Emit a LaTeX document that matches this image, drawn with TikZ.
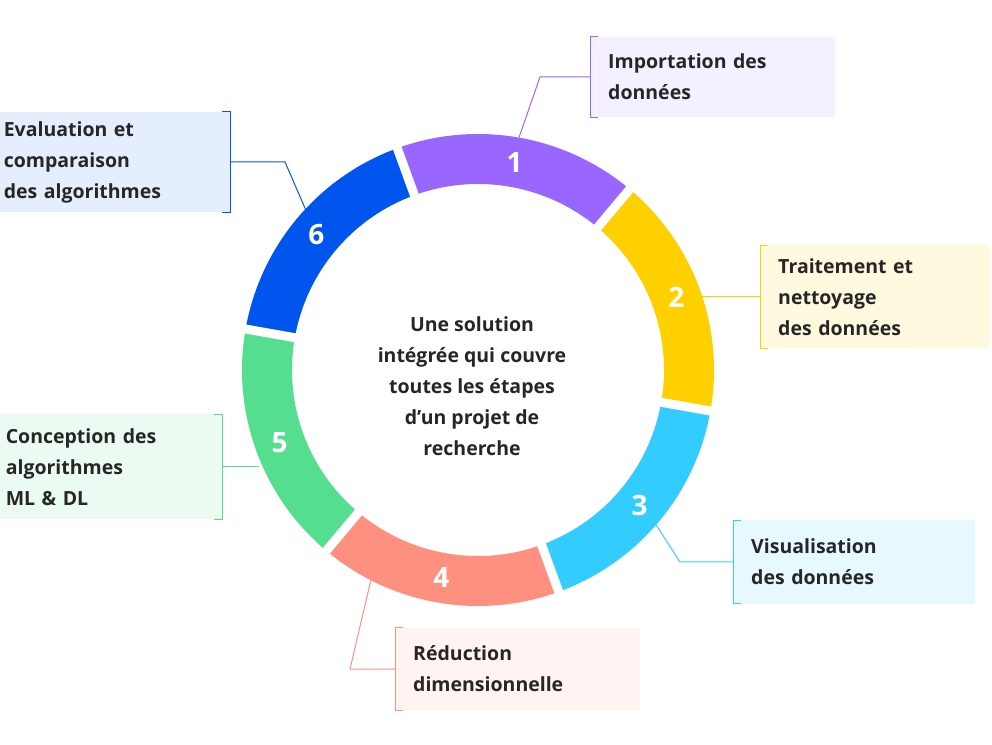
\documentclass[tikz,border=0pt]{standalone}
\usepackage{fontspec}
\setmainfont{Open Sans}
\usetikzlibrary{positioning}
\definecolor{cA}{HTML}{9966FF}
\definecolor{cB}{HTML}{FFD000}
\definecolor{cC}{HTML}{33CCFF}
\definecolor{cD}{HTML}{FF9080}
\definecolor{cE}{HTML}{55DD90}
\definecolor{cF}{HTML}{0055EE}
\tikzset{
  labelbox/.style={inner xsep=18pt, inner ysep=4pt, align=left, font=\bfseries\fontsize{19.5}{31}\selectfont, text=black!85},
  link/.style={line width=1pt}
}
\begin{document}
\begin{tikzpicture}[x=1pt,y=1pt]
    \useasboundingbox (0,0) rectangle (992,744);
    \coordinate (c) at (478,374);
    % anneau
    \foreach \a/\col/\n [count=\i] in {110/cA/1, 50/cB/2, -10/cC/3, -70/cD/4, -130/cE/5, -190/cF/6}{
        \fill[\col] ([shift={(\a:236)}]c) arc (\a:\a-60:236) -- ([shift={(\a-60:186)}]c) arc (\a-60:\a:186) -- cycle;
        \node[white, font=\bfseries\fontsize{28}{28}\selectfont] at ([shift={(\a-30:211)}]c) {\n};
    }
    % separations
    \foreach \a in {110,50,-10,-70,-130,-190}
        \draw[white, line width=9pt] ([shift={(\a:180)}]c) -- ([shift={(\a:242)}]c);
    % texte central
    \node[align=center, font=\bfseries\fontsize{19.5}{31}\selectfont, text=black!85] (centre) at (472,358)
        {Une solution\\intégrée qui couvre\\toutes les étapes\\d’un projet de\\recherche};
    % boites
    \node[labelbox, fill=cA!10, anchor=west, text width=209pt, minimum height=80pt] (b1) at (590,667) {Importation des\\données};
    \node[labelbox, fill=cB!12, anchor=west, text width=194pt, minimum height=103pt] (b2) at (760,447) {Traitement et\\nettoyage\\des données};
    \node[labelbox, fill=cC!12, anchor=west, text width=206pt, minimum height=83pt] (b3) at (733,182) {Visualisation\\des données};
    \node[labelbox, fill=cD!10, anchor=west, text width=209pt, minimum height=82pt] (b4) at (395,75) {Réduction\\dimensionnelle};
    \node[labelbox, fill=cE!12, anchor=east, inner xsep=6pt, text width=210pt, minimum height=105pt] (b5) at (222,277) {Conception des\\algorithmes\\ML \& DL};
    \node[labelbox, fill=cF!10, anchor=east, inner xsep=4pt, text width=222pt, minimum height=100pt] (b6) at (230,582) {Evaluation et\\comparaison\\des algorithmes};
    % crochets
    \foreach \b/\col in {b1/cA, b2/cB, b3/cC, b4/cD}
        \draw[\col, link] ([xshift=8pt]\b.north west) -- (\b.north west) -- (\b.south west) -- ([xshift=8pt]\b.south west);
    \foreach \b/\col in {b5/cE, b6/cF}
        \draw[\col, link] ([xshift=-8pt]\b.north east) -- (\b.north east) -- (\b.south east) -- ([xshift=-8pt]\b.south east);
    % liaisons
    \coordinate (r1) at ([shift={(80:236)}]c);
    \coordinate (r2) at ([shift={(18:236)}]c);
    \coordinate (r3) at ([shift={(-41:236)}]c);
    \coordinate (r4) at ([shift={(-117:236)}]c);
    \coordinate (r5) at ([shift={(-158:236)}]c);
    \coordinate (r6) at ([shift={(137:236)}]c);
    \draw[link, cA] (b1.west) -- (540,667) -- (r1);
    \draw[link, cB] (b2.west) -- (r2 |- b2.west);
    \draw[link, cC] (b3.west) -- (680,182) -- (r3);
    \draw[link, cD] (b4.west) -- (350,75) -- (r4);
    \draw[link, cE] (b5.east) -- (r5 |- b5.east);
    \draw[link, cF] (b6.east) -- (285,582) -- (r6);
\end{tikzpicture}
\end{document}
